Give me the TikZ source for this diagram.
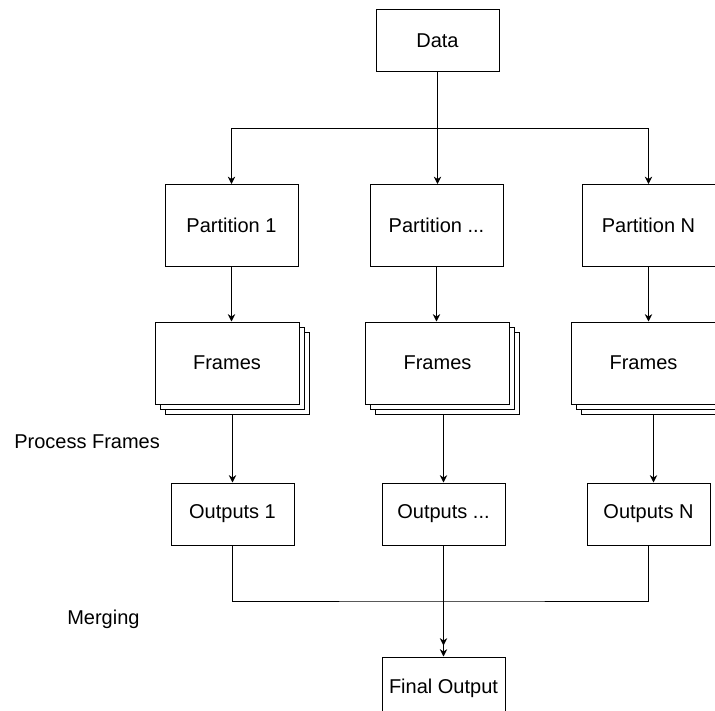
\documentclass[tikz,border=0pt]{standalone}
\usepackage{fontspec}
\setmainfont{Liberation Sans}
\usetikzlibrary{arrows.meta,shadows}

\begin{document}
\begin{tikzpicture}[x=0.75pt, y=-0.75pt, font=\fontsize{15}{18}\selectfont]
\tikzset{
  box/.style={rectangle, draw=black, fill=white, line width=0.75pt, inner sep=0pt, minimum width=92.25pt, minimum height=46.5pt, align=center},
  part/.style={box, minimum width=99.75pt, minimum height=61.5pt},
  stack/.style={box, minimum width=108pt, minimum height=61.5pt,
    copy shadow={shadow xshift=7.5pt, shadow yshift=-7.5pt},
    copy shadow={shadow xshift=3.75pt, shadow yshift=-3.75pt}},
  lbl/.style={anchor=base west, inner sep=0pt},
  arr/.style={-{Stealth[length=5.5pt,width=5.5pt]}, line width=0.75pt},
  ln/.style={line width=0.75pt},
}
\useasboundingbox (0,0) rectangle (715,711);
\node[box] (data) at (437.5,40.5) {Data};
\node[part] (p1) at (231.5,225.5) {Partition 1};
\node[part] (p2) at (436.5,225.5) {Partition ...};
\node[part] (p3) at (648.5,225.5) {Partition N};
\node[stack] (f1) at (227,363) {Frames};
\node[stack] (f2) at (437.5,363) {Frames};
\node[stack] (f3) at (643.5,363) {Frames};
\node[box] (o1) at (232.5,514) {Outputs 1};
\node[box] (o2) at (443.5,514) {Outputs ...};
\node[box] (o3) at (648.5,514) {Outputs N};
\node[box] (fin) at (443.5,688) {Final Output};
\node[lbl] (proc) at (14,448) {Process Frames};
\node[lbl] (merge) at (67,624) {Merging};
% split
\coordinate (split) at (437.5,128);
\draw[arr] (data.south) -- (data.south |- p2.north);
\draw[arr] (split) -| (p1.north);
\draw[arr] (split) -| (p3.north);
% partitions to frames
\draw[arr] (p1.south) -- (p1.south |- f1.north);
\draw[arr] (p2.south) -- (p2.south |- f2.north);
\draw[arr] (p3.south) -- (p3.south |- f3.north);
% frames to outputs
\coordinate (f3out) at ([xshift=7.5pt,yshift=-7.5pt]f3.south);
\draw[arr, shorten <=7.5pt] (o1.north |- f1.south) -- (o1.north);
\draw[arr, shorten <=7.5pt] (o2.north |- f2.south) -- (o2.north);
\draw[arr] (f3out) -- (f3out |- o3.north);
% merging
\coordinate (join) at (443.5,601);
\draw[ln] (o1.south) |- (join) -| (o3.south);
\draw[arr] (o2.south) -- (fin.north);
\draw[arr, shorten >=8.25pt] (join) -- (fin.north);
\end{tikzpicture}
\end{document}
